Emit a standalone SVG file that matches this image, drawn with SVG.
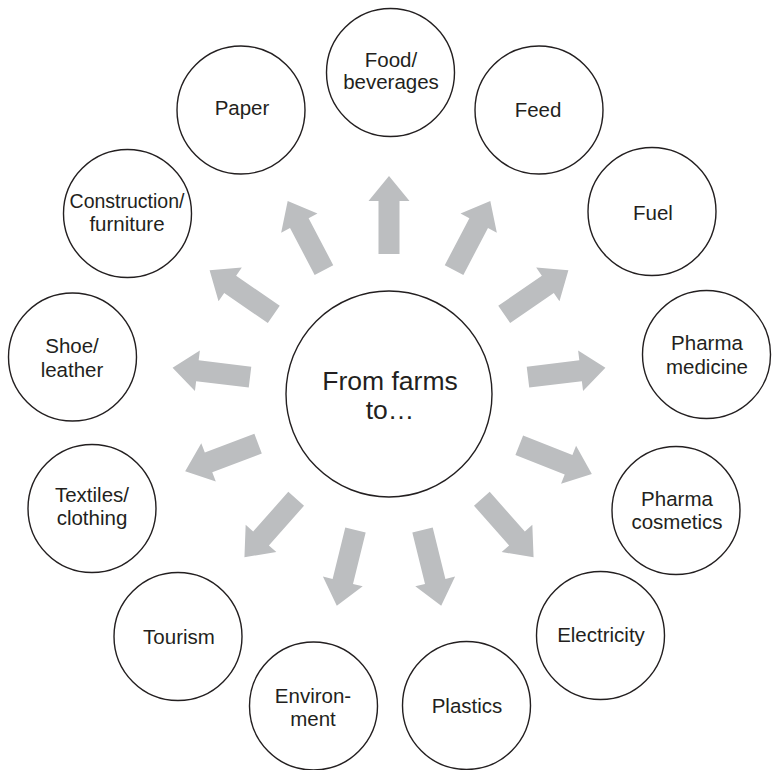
<svg xmlns="http://www.w3.org/2000/svg" xmlns:xlink="http://www.w3.org/1999/xlink" width="776" height="770" viewBox="0 0 776 770">
<style>
.n circle{fill:#fff;stroke:#231f20;stroke-width:1.4}
.n text{font-family:"Liberation Sans",Arial,sans-serif;font-size:20.5px;fill:#231f20;text-anchor:middle}
#center text{font-size:26.5px}
.arr{fill:#bcbec0}
</style>
<defs>
<path id="arrow" class="arr" d="M140,-10.5 L193,-10.5 L193,-20.5 L218,0 L193,20.5 L193,10.5 L140,10.5 Z"/>
</defs>
<rect width="776" height="770" fill="#fff"/>
<g id="connectors" transform="translate(389 394)">
<use xlink:href="#arrow" transform="rotate(-90)"/>
<use xlink:href="#arrow" transform="rotate(-62.31)"/>
<use xlink:href="#arrow" transform="rotate(-34.62)"/>
<use xlink:href="#arrow" transform="rotate(-6.92)"/>
<use xlink:href="#arrow" transform="rotate(21.5)"/>
<use xlink:href="#arrow" transform="rotate(48.46)"/>
<use xlink:href="#arrow" transform="rotate(76.15)"/>
<use xlink:href="#arrow" transform="rotate(103.85)"/>
<use xlink:href="#arrow" transform="rotate(131.54)"/>
<use xlink:href="#arrow" transform="rotate(159.23)"/>
<use xlink:href="#arrow" transform="rotate(186.92)"/>
<use xlink:href="#arrow" transform="rotate(214.62)"/>
<use xlink:href="#arrow" transform="rotate(242.31)"/>
</g>
<g id="center" class="n"><circle cx="389" cy="394" r="103"/><text x="390" y="390">From farms</text><text x="390" y="419">to…</text></g>
<g id="food" class="n"><circle cx="390.5" cy="72.5" r="64"/><text x="391" y="67">Food/</text><text x="391" y="89">beverages</text></g>
<g id="feed" class="n"><circle cx="539" cy="110" r="64"/><text x="538" y="117">Feed</text></g>
<g id="fuel" class="n"><circle cx="652" cy="211.5" r="64"/><text x="653" y="220">Fuel</text></g>
<g id="pharma-medicine" class="n"><circle cx="706.5" cy="354.5" r="64"/><text x="707" y="350">Pharma</text><text x="707" y="374">medicine</text></g>
<g id="pharma-cosmetics" class="n"><circle cx="676" cy="510.5" r="64"/><text x="677" y="506">Pharma</text><text x="677" y="529">cosmetics</text></g>
<g id="electricity" class="n"><circle cx="600.5" cy="635.5" r="64"/><text x="601" y="642">Electricity</text></g>
<g id="plastics" class="n"><circle cx="466.5" cy="705.5" r="64"/><text x="467" y="713">Plastics</text></g>
<g id="environment" class="n"><circle cx="313.5" cy="706" r="64"/><text x="313" y="703">Environ-</text><text x="313" y="726">ment</text></g>
<g id="tourism" class="n"><circle cx="178" cy="636.5" r="64"/><text x="179" y="644">Tourism</text></g>
<g id="textiles" class="n"><circle cx="92" cy="508.5" r="64"/><text x="92" y="502">Textiles/</text><text x="92" y="525">clothing</text></g>
<g id="shoe" class="n"><circle cx="72.5" cy="357" r="64"/><text x="72" y="353">Shoe/</text><text x="72" y="377">leather</text></g>
<g id="construction" class="n"><circle cx="127.5" cy="213.5" r="64"/><text x="127" y="208" style="font-size:19.5px">Construction/</text><text x="127" y="231">furniture</text></g>
<g id="paper" class="n"><circle cx="241" cy="110" r="64"/><text x="242" y="115">Paper</text></g>
</svg>
